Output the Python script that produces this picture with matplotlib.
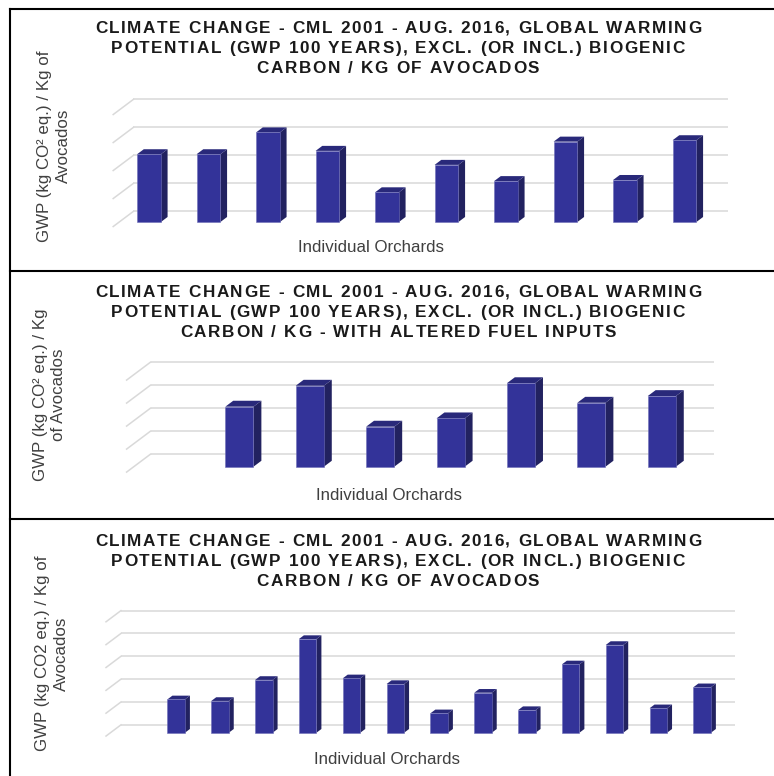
import matplotlib
matplotlib.use("Agg")
import matplotlib.pyplot as plt
import numpy as np
from matplotlib.patches import Polygon
from matplotlib.lines import Line2D
from matplotlib.font_manager import FontProperties, findfont
from matplotlib.ft2font import FT2Font

# GWP per kg of avocados, one value per orchard (nan = empty slot)
orchard_gwp = [2.42, 2.42, 3.20, 2.54, 1.06, 2.04, 1.46, 2.87, 1.50, 2.92]
altered_fuel_gwp = [np.nan, 2.61, 3.52, 1.74, 2.10, 3.63, 2.78, 3.07]
orchard_gwp_b = [np.nan, 1.46, 1.39, 2.31, 4.10, 2.38, 2.13, 0.85, 1.75, 0.99,
                 2.99, 3.84, 1.07, 1.99]

title_a = ["CLIMATE CHANGE - CML 2001 - AUG. 2016, GLOBAL WARMING",
           "POTENTIAL (GWP 100 YEARS), EXCL. (OR INCL.) BIOGENIC",
           "CARBON / KG OF AVOCADOS"]
title_b = ["CLIMATE CHANGE - CML 2001 - AUG. 2016, GLOBAL WARMING",
           "POTENTIAL (GWP 100 YEARS), EXCL. (OR INCL.) BIOGENIC",
           "CARBON / KG - WITH ALTERED FUEL INPUTS"]
ylabel_a = "GWP (kg CO\u00b2 eq.) / Kg of\nAvocados"
ylabel_b = "GWP (kg CO\u00b2 eq.) / Kg\nof Avocados"
ylabel_c = "GWP (kg CO2 eq.) / Kg of\nAvocados"
xlabel = "Individual Orchards"

W, H = 774, 776
FRONT, SIDE, TOP = "#333399", "#222260", "#29297a"
GRID = "#d9d9d9"

fig = plt.figure(figsize=(W / 100, H / 100), dpi=100)

title_font = FontProperties(family="Liberation Sans", weight="bold", size=12.3)
ft = FT2Font(findfont(title_font))
ft.set_size(12.3, 100)


def spaced_line(text, cx, baseline, track=1.6):
    # draw bold caps with extra letter spacing
    advs = [ft.load_char(ord(c)).linearHoriAdvance / 65536 for c in text]
    total = sum(advs) + track * (len(text) - 1)
    x = cx - total / 2
    for c, a in zip(text, advs):
        fig.text(x / W, 1 - baseline / H, c, fontproperties=title_font,
                 color="#1a1a1a", ha="left", va="baseline")
        x += a + track


def panel(values, levels, slot0, slot, base, unit, lines, title_y, ylab, ylab_xy, xlab_xy):
    n = len(values)
    left, right = 95, 755
    top, bottom = base - levels * unit - 25, base + 25
    ax = fig.add_axes([left / W, 1 - bottom / H, (right - left) / W, (bottom - top) / H])
    ax.set_xlim((left - slot0) / slot, (right - slot0) / slot)
    ax.set_ylim((base - bottom) / unit, (base - top) / unit)
    ax.axis("off")

    # oblique depth of the floor/wall, bars sit between f0 and f1
    dx = 0.34
    dy = 0.75 * dx * slot / unit
    f0, f1 = 0.3, 0.63
    for k in range(levels + 1):
        yb = k + (1 - f0) * dy
        xb = -0.5 + (1 - f0) * dx
        ax.plot([xb, n - 0.5 + (1 - f0) * dx], [yb, yb], color=GRID, lw=1.1, zorder=1,
                solid_capstyle="butt")
        ax.plot([-0.5 - f0 * dx, xb], [k - f0 * dy, yb], color=GRID, lw=1.1, zorder=1)

    bx, by = (f1 - f0) * dx, (f1 - f0) * dy
    w = 0.4
    for i, v in enumerate(values):
        if np.isnan(v):
            continue
        ax.bar(i, v, width=w, color=FRONT, edgecolor="#6f6fb8", linewidth=0.4, zorder=3)
        r, l = i + w / 2, i - w / 2
        ax.add_patch(Polygon([(r, 0), (r + bx, by), (r + bx, v + by), (r, v)],
                             closed=True, facecolor=SIDE, edgecolor="none", zorder=2))
        ax.add_patch(Polygon([(l, v), (r, v), (r + bx, v + by), (l + bx, v + by)],
                             closed=True, facecolor=TOP, edgecolor="none", zorder=2))

    for j, line in enumerate(lines):
        spaced_line(line, 398, title_y + 19.8 * j)
    fig.text(ylab_xy[0] / W, 1 - ylab_xy[1] / H, ylab, rotation=90, ha="center",
             va="center", multialignment="center", family="Liberation Sans",
             fontsize=12.2, color="#404040", linespacing=1.25)
    fig.text(xlab_xy[0] / W, 1 - xlab_xy[1] / H, xlabel, ha="center", va="center",
             family="Liberation Sans", fontsize=12.2, color="#404040")


panel(orchard_gwp, 4, 149, 59.5, 222, 28, title_a, 33.3, ylabel_a, (54, 146), (371.5, 247))
panel(altered_fuel_gwp, 4, 169, 70.4, 466.7, 23, title_b, 297.3, ylabel_b, (50, 395), (389, 496))
panel(orchard_gwp_b, 5, 132.4, 43.83, 732.7, 22.85, title_a, 546, ylabel_c, (52, 653.5), (387.5, 760))

# panel frames
for y in (8.5, 270.5, 519):
    fig.add_artist(Line2D([10 / W, 1], [1 - y / H, 1 - y / H], color="black", lw=1.5))
fig.add_artist(Line2D([10 / W, 10 / W], [0, 1 - 8.5 / H], color="black", lw=1.5))

fig.savefig("out.png", dpi=100, facecolor="white")
